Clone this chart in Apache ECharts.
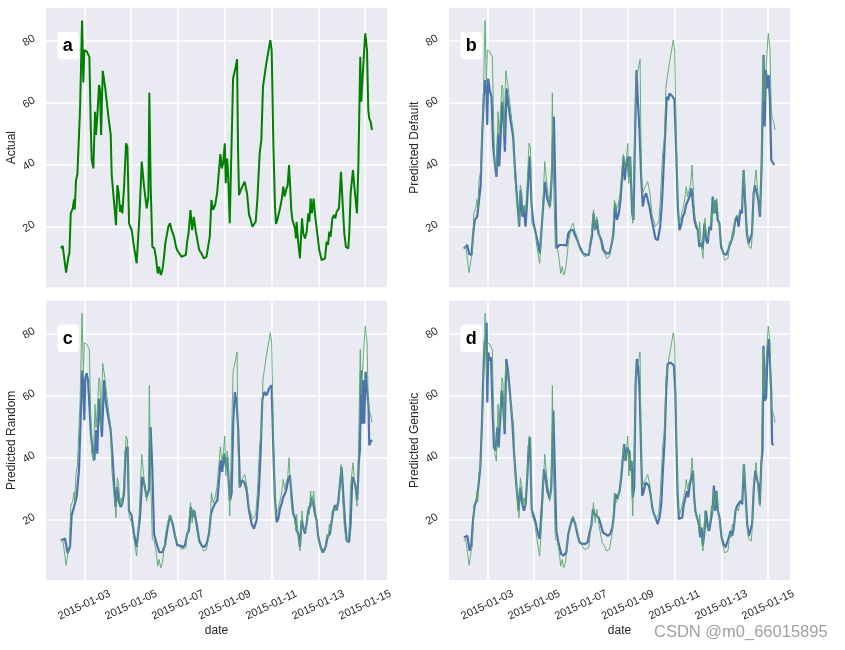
<!DOCTYPE html>
<html><head><meta charset="utf-8">
<script src="https://cdn.jsdelivr.net/npm/echarts@6/dist/echarts.min.js"></script>
<style>html,body{margin:0;padding:0;background:#fff}#chart{width:845px;height:650px}</style>
</head><body><div id="chart"></div>
<script>
// x values are hours after 2015-01-02 00:00
const tickHours = [24, 72, 120, 168, 216, 264, 312];
const tickLabels = ['2015-01-03','2015-01-05','2015-01-07','2015-01-09','2015-01-11','2015-01-13','2015-01-15'];
const yTicks = [20, 40, 60, 80];
const panelLetters = ['a', 'b', 'c', 'd'];
const yNames = ['Actual', 'Predicted Default', 'Predicted Random', 'Predicted Genetic'];

const actual = [[0,13],[1.8,13.8],[3.2,14.3],[5.3,5.2],[7.7,10.3],[8.7,11.4],[10.1,24.3],[12.1,25.9],[13.5,28.8],[14.2,25.6],[15.5,35],[16.9,37],[17.9,37.2],[19.6,57.6],[21.7,86.5],[23,66.5],[24.1,77],[26.5,76.5],[29.2,74.8],[30.6,52.3],[31.6,41.5],[32.6,41],[33.3,38.8],[35,57.1],[36,49.6],[37.4,56],[39.1,65.7],[40.1,64.1],[41.2,49.6],[42.9,70.3],[45.3,65.2],[48.7,55.5],[51.1,49.6],[52.1,36.7],[53.8,36.1],[56.5,20.5],[57.9,33.4],[59.3,30.8],[60.7,24.8],[61.7,27],[63,24.3],[64.8,32.9],[66.8,46.9],[68.2,45.8],[69.9,21.1],[71.6,21.6],[72.6,18.9],[75,13.5],[77.7,8.2],[80.5,23.2],[82.9,41],[85.3,32.9],[88,25.9],[89.7,29.7],[90.7,63.2],[92.1,32.9],[93.8,13.5],[95.9,13],[97.6,9.8],[99.3,4.9],[100.7,7.1],[102.4,4.4],[104.1,6],[105.8,10.3],[107.1,14.6],[108.5,15.2],[110.2,20],[111.9,21.1],[113.6,18.9],[116,16.8],[118.1,13.5],[119.5,12.3],[121.5,11.9],[123.7,10.3],[125.4,10.1],[128.2,10.9],[129.5,15.2],[130.9,17.8],[132.9,25.4],[134.6,18.9],[136.3,23.2],[138.4,18.4],[139.7,17.8],[141.8,12.5],[144.2,11.4],[146.5,9.8],[149.3,10.3],[151,13.5],[152.7,16.8],[154.4,28.6],[156.1,25.4],[158.2,27],[160.2,30.8],[161.9,37.2],[163.6,43.4],[165,38.8],[166.4,40.4],[168.1,46.9],[169.1,34],[170.5,42],[171.5,37.2],[173.2,21.1],[176.6,67.8],[179,71.1],[180.7,74],[181.7,44.7],[182.7,30.2],[184.4,31.8],[186.1,32.4],[188.5,34.5],[190.9,30.8],[193,23.8],[194.7,22.2],[196.4,20],[198.1,19.7],[199.8,21.6],[201.5,28.6],[203.9,43.7],[205.6,48],[207.3,65.2],[210.7,72.7],[214.8,80.2],[216.2,77],[217.9,46.9],[219.6,26.5],[220.6,20.9],[222,22.2],[223.7,21.6],[224.7,25.9],[226.4,28.6],[228.1,32.9],[229.5,29.7],[230.9,31.8],[232.6,33.4],[234,39.9],[235,34],[236.3,25.4],[237.4,22.2],[239.1,21.6],[240.1,19.5],[241.1,16.2],[241.8,21.6],[243.2,15.7],[245.2,9.8],[247.3,22.7],[248.7,17.8],[250.4,16.2],[252.1,18.4],[253.8,24.3],[254.8,21.6],[256.2,29.1],[257.5,24.3],[259.2,29.1],[260.9,23.2],[263,17.8],[265,12.5],[267.5,9.2],[269.2,8.7],[270.9,9.8],[272.6,15.2],[274,14.1],[275.3,18.4],[276.7,16.8],[278.4,22.7],[280.1,23.8],[281.5,22.7],[282.8,24.8],[285.2,25.9],[287.3,37.7],[289,27.5],[290.7,17.8],[292.4,13.5],[294.8,13],[295.8,17.8],[297.2,30.8],[298.6,31.3],[299.6,38.3],[301,32.9],[302.3,33.4],[303.7,24.3],[305.1,39.4],[306.1,38.8],[307.1,74.8],[308.1,60.3],[309.5,59.8],[310.9,75.9],[312.2,82.4],[314,77],[315.3,57.6],[316.3,54.9],[317.7,53.9],[319.1,51.2]];

const predDefault = [[0,13],[2,13.5],[3.4,14.1],[5.4,11.2],[7.8,10.9],[9.5,17.8],[11.2,22.2],[13.6,23.2],[15.7,29.1],[17.1,32.9],[18.8,50.1],[20.5,62.5],[21.8,67.3],[23.2,63],[23.9,52.8],[24.9,67.8],[26,65.2],[27.3,63],[28.3,61.9],[30,45.8],[31.7,40.4],[33.4,36.1],[35.2,50.1],[36.2,39.4],[37.5,48],[39.2,60.3],[40.3,57.6],[42,44.2],[43.7,64.6],[45.4,59.8],[47.8,54.4],[50.5,49],[52.2,39.4],[54.6,28.6],[56.7,20],[58.1,31.8],[60.1,23.2],[61.5,26.5],[63.2,20],[64.9,28.6],[66.3,37.2],[67.6,42.6],[69.3,27.5],[71.1,21.6],[72.8,21.1],[75.2,15.7],[77.9,11.4],[80.3,22.2],[83.1,34.5],[85.4,29.1],[88.2,26.5],[89.9,35],[92.3,55.5],[94,28.6],[95,13],[97.8,14.1],[100.2,14.1],[102.6,14.1],[105.3,13.9],[107,17.8],[109.4,18.9],[112.2,18.9],[113.9,17.3],[116.3,15.7],[118.5,13.8],[122.1,11.4],[125.5,10.9],[128.2,10.9],[129.6,14.1],[131.3,16.8],[133,24.3],[134.7,18.9],[136.4,22.2],[138.1,17.8],[140.9,15.7],[143.2,12.5],[146,11.4],[149.4,11.4],[151.7,14.6],[153.4,17.8],[155.1,27.5],[156.9,22.2],[158.9,24.3],[160.6,28.6],[162.3,36.1],[163.7,42.6],[165,35],[166.4,40.4],[168.1,42.6],[169.1,36.1],[170.5,42.6],[171.5,42.6],[172.6,24.3],[173.9,22.2],[175.6,50.1],[177,70.5],[178.4,60.9],[180.1,51.2],[181.8,36.1],[183.5,26.5],[185.2,29.7],[186.9,30.8],[188.6,30.2],[190.3,26.5],[192.7,22.2],[194.8,18.9],[196.5,16.2],[198.9,15.7],[201.3,20],[203.3,28.6],[205,40.4],[206.8,52.3],[208.1,61.9],[209.5,60.9],[210.9,63],[212.6,62.5],[214.3,61.9],[216,60.9],[217.7,44.7],[219.4,26.5],[221.1,18.9],[222.8,20.5],[224.5,23.2],[226.2,24.3],[227.9,27],[229.6,27.5],[231.4,29.7],[233.4,32.4],[234.8,31.8],[236.5,22.2],[238.2,20],[239.9,18.9],[241.6,13.5],[243.3,14.6],[245,13],[246.7,21.1],[248.4,15.7],[250.1,14.6],[251.8,20],[253.5,18.9],[255.2,29.7],[256.9,24.3],[258.6,28.6],[260.3,22.2],[262.1,21.1],[263.8,13.5],[266.2,11.4],[268.9,10.9],[271.3,12.5],[273,14.6],[274.7,15.7],[276.4,17.8],[278.4,22.2],[280.1,23.2],[281.8,20],[283.5,25.4],[285.2,24.3],[286.9,38.3],[288.6,27.5],[290.3,17.8],[292,14.6],[293.8,14.1],[295.5,17.8],[297.2,30.8],[298.5,33.4],[300.2,32.9],[302,28.6],[303.7,23.2],[305.4,39.9],[306.4,40.4],[307.4,75.4],[308.5,52.3],[309.8,70.5],[311.2,64.6],[312.6,68.9],[313.9,60.9],[315.3,41.5],[316.7,41],[318.4,39.9]];

const predRandom = [[0,13.2],[1.8,12.7],[4.2,13.8],[6.9,9.1],[9.3,11.1],[11,21.3],[13.4,24],[16.1,27.2],[18.5,35.8],[20.2,52],[21.9,68.1],[23,62.8],[24,52],[25,65.6],[26.4,67.2],[27.8,64.9],[29.1,64.9],[30.8,47.7],[32.5,42.3],[34.3,39.1],[36,48.8],[37.3,41.2],[39,59],[40.7,52],[42.1,46.6],[44.2,64.9],[46.2,57.4],[48.6,53.1],[51,48.8],[52.7,41.2],[54.4,32.6],[56.1,24],[57.8,30.4],[59.5,25.6],[61.3,24],[63,25.1],[64.7,28.3],[66.4,42.3],[68.4,43.4],[69.8,22.9],[72.5,21.3],[74.9,15.4],[77.7,11.1],[79.4,11.1],[81.1,20.7],[83.5,33.7],[85.5,31.5],[87.9,27.2],[90.3,29.4],[92,49.8],[93.7,36.9],[95.5,15.4],[98.2,12.1],[100.9,9.4],[104,9.4],[106.7,11.6],[109.5,17.5],[111.9,21.3],[114.6,18.6],[117,14.8],[119.4,11.6],[122.1,11.6],[124.9,11.1],[127.2,11.6],[129.6,15.4],[131.3,16.4],[133.4,24],[135.1,20.7],[136.8,22.9],[139.2,18.6],[141.9,13.2],[144.3,11.6],[147.1,11.1],[149.5,12.1],[151.9,15.4],[153.9,21.8],[155.6,23.4],[158,25.1],[160.4,26.1],[162.5,33.7],[163.8,39.1],[165.5,35.3],[167.2,41.2],[169.3,36.9],[170.7,40.1],[172,32.6],[173.4,26.1],[175.1,28.3],[176.8,52],[178.5,61.1],[180.2,57.4],[181.9,48.8],[183.7,30.4],[185.7,32.6],[188.1,32],[190.5,29.4],[192.9,22.9],[195.6,18.6],[198,17],[200.7,19.7],[203.1,29.4],[204.8,41.2],[206.6,58.5],[208.6,61.1],[211,60],[213.4,62.2],[216.1,63.3],[217.8,43.4],[219.5,27.2],[221.3,19.1],[223,20.2],[224.7,23.4],[226.4,25.1],[228.1,27.2],[229.8,28.3],[231.5,29.9],[233.2,33.1],[234.9,34.2],[236.7,27.2],[238.4,21.8],[240.1,20.7],[241.8,16.4],[243.5,15.4],[245.2,11.1],[246.9,19.7],[248.6,17.5],[250.3,15.4],[252,18.6],[253.7,22.9],[255.5,24],[257.2,27.2],[258.9,25.1],[260.6,21.8],[262.3,19.7],[264,14.3],[266.4,11.1],[269.1,9.4],[271.5,11.1],[273.6,14.3],[276,15.4],[277.7,19.1],[279.4,22.9],[281.1,24.6],[282.8,22.9],[284.5,25.6],[286.2,26.1],[287.9,36.9],[289.6,28.3],[291.3,19.7],[293.1,13.2],[295.5,12.7],[297.2,18.6],[298.9,33.7],[300.6,32.6],[302.3,30.4],[304,26.1],[305.7,39.1],[306.7,42.3],[307.8,68.1],[309.1,50.9],[310.2,64.9],[311.2,50.9],[312.5,67.6],[314.3,68.1],[315.6,56.3],[316.3,43.9],[317.7,45],[319,45.7]];

const predGenetic = [[0,14.2],[1.8,13.7],[3.5,14.7],[5.9,9.9],[7.6,12.1],[9.3,19.6],[11,24.4],[13.4,26.6],[15.1,31.4],[16.8,36.8],[18.5,50.8],[19.9,66.9],[21.3,77.6],[22.3,75.5],[23.3,83.5],[24,57.7],[25,73.9],[26.4,71.2],[27.8,72.3],[29.1,58.3],[30.8,43.2],[32.5,42.2],[34.2,49.7],[35.6,43.2],[37.3,52.9],[38.7,61.5],[40,58.3],[41.8,47.5],[43.5,71.7],[45.2,68],[47.6,59.4],[49.6,51.8],[51.3,42.2],[53.7,31.4],[56.1,22.8],[57.8,30.3],[59.9,24.9],[61.6,22.8],[63.3,24.9],[65,33.5],[66.4,43.2],[67.8,46.5],[69.5,23.3],[71.5,22.8],[73.2,19.6],[75.3,16.3],[77.7,13.7],[80.1,24.9],[82.1,36.2],[83.8,33.5],[85.5,29.2],[87.9,26.6],[89.6,30.3],[91.7,55.1],[93.1,37.8],[94.8,16.3],[97.2,12.1],[99.9,8.8],[102.3,8.3],[105,9.4],[107.1,15.3],[109.5,18.5],[111.9,20.6],[114.2,18.5],[116.3,15.3],[118.7,12.6],[121.4,12.1],[124.5,12.1],[126.9,12.6],[128.9,15.8],[130.7,18],[132.4,23.3],[134.1,21.7],[135.8,22.3],[138.2,20.6],[140.2,18.5],[142.6,15.8],[145,15.3],[147.7,14.7],[150.1,15.3],[152.2,17.4],[153.6,20.6],[155.3,28.2],[157.3,26.6],[159.7,29.2],[161.4,33.5],[163.1,40],[164.4,44.3],[165.8,38.9],[167.5,43.2],[169.2,42.2],[170.6,35.7],[172,38.9],[173.3,27.1],[174.7,30.3],[176.1,63.7],[177.4,71.7],[178.8,69],[180.2,61.5],[181.5,45.4],[182.9,27.6],[184.6,29.2],[186.3,31.9],[188,32.5],[189.7,30.9],[191.4,28.2],[193.2,23.9],[194.9,21.7],[196.6,20.6],[198.6,18.5],[200.7,20.6],[202.4,24.9],[204.1,35.7],[205.8,44.8],[207.5,61.5],[208.9,70.1],[210.3,69.6],[212,70.6],[213.7,71],[215.4,69.6],[216.8,61.5],[217.8,46.5],[219.1,29.2],[220.5,20.1],[222.2,19.6],[223.9,20.6],[225.6,24.9],[227.3,27.1],[229,29.2],[230.1,27.1],[231.8,31.4],[233.5,33.5],[234.9,35.7],[236.2,27.1],[237.6,22.3],[239.3,22.3],[241,18.5],[242.4,14.2],[243.8,17.4],[245.1,11.5],[246.8,16.3],[248.2,22.8],[249.9,18.5],[251.6,16.3],[253.3,19.6],[255,22.8],[256.4,30.9],[257.8,22.8],[259.1,29.2],[260.5,22.8],[262.2,20.6],[264.3,14.2],[266.3,12.1],[268.4,11],[270.1,11],[271.8,14.2],[273.5,16.3],[275.2,14.7],[276.9,17.4],[278.6,22.8],[280.3,24.4],[282.1,24.9],[283.8,26],[285.5,24.9],[287.2,37.8],[288.9,28.2],[290.6,18.5],[292.3,14.7],[294,15.3],[295.7,18.5],[297.4,30.3],[298.8,35.7],[300.2,33.5],[301.9,31.4],[303.6,24.9],[305,37.8],[306.3,42.2],[307.3,76],[308.7,58.3],[310.1,59.4],[311.5,74.9],[312.8,78.2],[314.2,77.6],[315.2,61.5],[316.2,44.3],[317.9,44.1]];

const predictions = [null, predDefault, predRandom, predGenetic];

// ---- layout / style ----
const FONT = 'Liberation Sans, Arial, sans-serif';
const TXT = '#262626';
const grids = [
  {left: 46,  top: 8,     width: 341, height: 279.3},
  {left: 449, top: 8,     width: 341, height: 279.3},
  {left: 46,  top: 300.7, width: 341, height: 279.3},
  {left: 449, top: 300.7, width: 341, height: 279.3}
];
const X_MIN = -15.3, X_MAX = 334.5, Y_MIN = 0.45, Y_MAX = 90.55;

const option = {
  animation: false,
  backgroundColor: '#ffffff',
  grid: grids.map(g => Object.assign({show: true, backgroundColor: '#EAEAF2', borderWidth: 0, containLabel: false, outerBoundsMode: 'none'}, g)),
  xAxis: grids.map((g, i) => ({
    type: 'value', gridIndex: i, min: X_MIN, max: X_MAX,
    axisLine: {show: false},
    axisTick: {show: false, customValues: tickHours},
    axisLabel: {
      show: i >= 2, customValues: tickHours, rotate: 25, margin: 25,
      align: 'center', verticalAlign: 'middle',
      fontFamily: FONT, fontSize: 11, color: TXT,
      formatter: v => tickLabels[tickHours.indexOf(v)] || ''
    },
    splitLine: {show: true, lineStyle: {color: '#ffffff', width: 1.5}},
    name: i >= 2 ? 'date' : '', nameLocation: 'middle', nameGap: 45,
    nameTextStyle: {fontFamily: FONT, fontSize: 12, color: TXT}
  })),
  yAxis: grids.map((g, i) => ({
    type: 'value', gridIndex: i, min: Y_MIN, max: Y_MAX,
    axisLine: {show: false},
    axisTick: {show: false, customValues: yTicks},
    axisLabel: {
      customValues: yTicks, rotate: 30, margin: 17,
      align: 'center', verticalAlign: 'middle',
      fontFamily: FONT, fontSize: 11, color: TXT,
      formatter: v => String(v)
    },
    splitLine: {show: true, lineStyle: {color: '#ffffff', width: 1.5}},
    name: yNames[i], nameLocation: 'middle', nameGap: 27, nameRotate: 90,
    nameTextStyle: {fontFamily: FONT, fontSize: 12, color: TXT}
  })),
  series: [],
  graphic: []
};

// panel a: actual only
option.series.push({
  type: 'line', xAxisIndex: 0, yAxisIndex: 0, data: actual,
  showSymbol: false, symbol: 'none', lineStyle: {color: '#008000', width: 2}, z: 3
});
// panels b-d: prediction (blue) + actual (thin green)
for (let i = 1; i < 4; i++) {
  option.series.push({
    type: 'line', xAxisIndex: i, yAxisIndex: i, data: predictions[i],
    showSymbol: false, symbol: 'none', lineStyle: {color: '#4C72B0', width: 2.2}, z: 3
  });
  option.series.push({
    type: 'line', xAxisIndex: i, yAxisIndex: i, data: actual,
    showSymbol: false, symbol: 'none', lineStyle: {color: '#55A868', width: 1, opacity: 0.9}, z: 4
  });
}

// panel letters in white rounded boxes
grids.forEach((g, i) => {
  option.graphic.push({
    type: 'rect', left: g.left + 11.5, top: g.top + 23.7, z: 100,
    shape: {width: 21.5, height: 27.5, r: 4}, style: {fill: '#ffffff'}
  });
  option.graphic.push({
    type: 'text', left: g.left + 11.5 + 5.3, top: g.top + 23.7 + 5.2, z: 101,
    style: {text: panelLetters[i], fontFamily: FONT, fontWeight: 'bold', fontSize: 18, fill: '#000000'}
  });
});
// watermark
option.graphic.push({
  type: 'text', left: 654, top: 624, z: 100,
  style: {text: 'CSDN @m0_66015895', fontFamily: FONT, fontSize: 16.5, fill: '#a0a0a0'}
});

const chart = echarts.init(document.getElementById('chart'), null, {renderer: 'canvas', width: 845, height: 650});
chart.setOption(option);
</script>
</body></html>
